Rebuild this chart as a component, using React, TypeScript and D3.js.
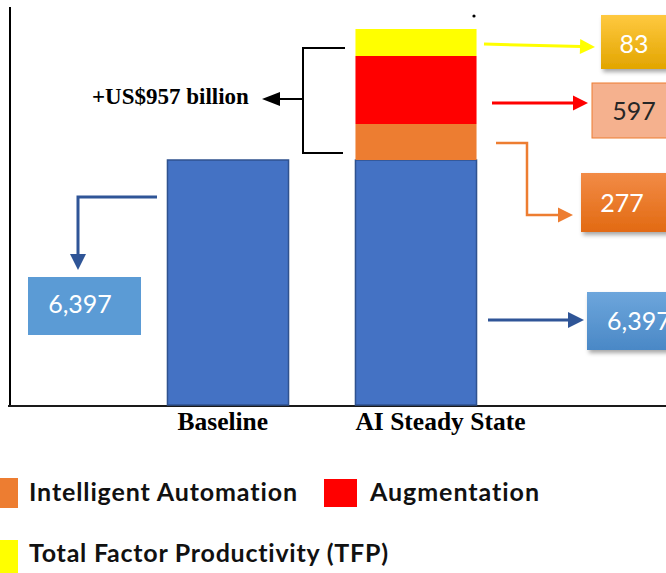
import React from 'react';
import * as d3 from 'd3';

// chart data
const categories = ['Baseline', 'AI Steady State'];
const baselineValue = 6397;
const stackKeys = ['Baseline', 'Intelligent Automation', 'Augmentation', 'Total Factor Productivity (TFP)'];
const stackValues = [6397, 277, 597, 83];
const gainLabel = '+US$957 billion';
const legendItems = ['Intelligent Automation', 'Augmentation', 'Total Factor Productivity (TFP)'];

const W = 666;
const H = 573;
const SERIF = '"Liberation Serif", "Times New Roman", serif';
const SANS = 'Lato, "Open Sans", sans-serif';
const noLig = { fontVariantLigatures: 'none' as const };

const colors: Record<string, string> = {
  Baseline: '#4472C4',
  'Intelligent Automation': '#ED7D31',
  Augmentation: '#FF0000',
  'Total Factor Productivity (TFP)': '#FFFF00',
};

const x = d3.scaleBand<string>().domain(categories).range([134, 510]).paddingInner(0.356).paddingOuter(0.178);

// the source figure is schematic, segments are not drawn to scale -> piecewise scale
const cum = [0, ...Array.from(d3.cumsum(stackValues))];
const y = d3.scaleLinear().domain(cum).range([405, 160, 124, 56, 29]);

const stackRow: Record<string, number> = {};
stackKeys.forEach((k, i) => (stackRow[k] = stackValues[i]));
const series = d3.stack<Record<string, number>>().keys(stackKeys)([stackRow]);

const fmt = d3.format(',');

function Arrow({ pts, color, w = 3, head = 15, hw = 15 }: { pts: number[][]; color: string; w?: number; head?: number; hw?: number }) {
  const [x1, y1] = pts[pts.length - 2];
  const [x2, y2] = pts[pts.length - 1];
  const a = Math.atan2(y2 - y1, x2 - x1);
  const bx = x2 - head * Math.cos(a);
  const by = y2 - head * Math.sin(a);
  const nx = (-Math.sin(a) * hw) / 2;
  const ny = (Math.cos(a) * hw) / 2;
  const line = [...pts.slice(0, -1), [bx + Math.cos(a), by + Math.sin(a)]];
  return (
    <g>
      <polyline points={line.map((p) => p.join(',')).join(' ')} fill="none" stroke={color} strokeWidth={w} strokeLinejoin="miter" />
      <polygon points={`${x2},${y2} ${bx + nx},${by + ny} ${bx - nx},${by - ny}`} fill={color} />
    </g>
  );
}

export default function App() {
  const aiX = x('AI Steady State')!;
  const baseX = x('Baseline')!;
  const bw = x.bandwidth();

  return (
    <svg width={W} height={H} style={{ position: 'absolute', left: 0, top: 0, background: '#fff' }}>
      <defs>
        <filter id="sh" x="-20%" y="-20%" width="150%" height="160%">
          <feDropShadow dx="2" dy="3" stdDeviation="2" floodColor="#000" floodOpacity="0.35" />
        </filter>
        <linearGradient id="gGold" x1="0" y1="0" x2="0" y2="1">
          <stop offset="0" stopColor="#FFC940" />
          <stop offset="1" stopColor="#E2A500" />
        </linearGradient>
        <linearGradient id="gOrange" x1="0" y1="0" x2="0" y2="1">
          <stop offset="0" stopColor="#F28B46" />
          <stop offset="1" stopColor="#E26A12" />
        </linearGradient>
        <linearGradient id="gBlue" x1="0" y1="0" x2="0" y2="1">
          <stop offset="0" stopColor="#6DA6DC" />
          <stop offset="1" stopColor="#4A88C6" />
        </linearGradient>
      </defs>

      {/* axes */}
      <line x1={10} x2={10} y1={7} y2={406} stroke="#000" strokeWidth={2} />
      <line x1={8} x2={W} y1={406} y2={406} stroke="#1a1a1a" strokeWidth={2} />

      {/* baseline bar */}
      <rect x={baseX} y={y(baselineValue)} width={bw} height={y(0) - y(baselineValue)} fill={colors.Baseline} stroke="#2F528F" strokeWidth={1.5} />

      {/* stacked AI bar */}
      {series.map((s) => {
        const d = s[0];
        const isBase = s.key === 'Baseline';
        return (
          <rect
            key={s.key}
            x={aiX}
            y={y(d[1])}
            width={bw}
            height={y(d[0]) - y(d[1])}
            fill={colors[s.key]}
            stroke={isBase ? '#2F528F' : 'none'}
            strokeWidth={isBase ? 1.5 : 0}
          />
        );
      })}

      {/* category labels */}
      {categories.map((c, i) => (
        <text key={c} x={x(c)! + (i === 0 ? 10 : 0)} y={430} fontFamily={SERIF} fontWeight="bold" fontSize={25.5} fill="#000">
          {c}
        </text>
      ))}

      {/* bracket + gain label */}
      <polyline points="345,48 303,48 303,153 343,153" fill="none" stroke="#000" strokeWidth={2} />
      <Arrow pts={[[303, 99], [262, 99]]} color="#000" w={2} head={18} hw={14} />
      <circle cx={474} cy={16} r={1.6} fill="#000" />
      <text x={92} y={104} fontFamily={SERIF} fontWeight="bold" fontSize={23} fill="#000">
        {gainLabel}
      </text>

      {/* arrows to value boxes */}
      <Arrow pts={[[484, 44], [595, 47]]} color="#FFFF00" w={3} />
      <Arrow pts={[[492, 103], [588, 103]]} color="#FF0000" w={3} />
      <Arrow pts={[[496, 143], [527, 143], [527, 215], [573, 215]]} color="#ED7D31" w={2.5} />
      <Arrow pts={[[488, 320], [584, 320]]} color="#2F5597" w={3} head={16} hw={16} />
      <Arrow pts={[[157, 197], [78, 197], [78, 270]]} color="#2F5597" w={3} head={16} hw={16} />

      {/* value boxes */}
      <rect x={601} y={15} width={90} height={54} fill="url(#gGold)" filter="url(#sh)" />
      <text x={634} y={53} textAnchor="middle" fontFamily={SANS} fontSize={25} fill="#fff">
        {fmt(stackValues[3])}
      </text>

      <rect x={592} y={83} width={90} height={55} fill="#F5B18E" stroke="#ED7D31" strokeWidth={1} />
      <text x={634} y={120} textAnchor="middle" fontFamily={SANS} fontSize={25} fill="#262626">
        {fmt(stackValues[2])}
      </text>

      <rect x={581} y={173} width={100} height={59} fill="url(#gOrange)" filter="url(#sh)" />
      <text x={622} y={212} textAnchor="middle" fontFamily={SANS} fontSize={25} fill="#fff">
        {fmt(stackValues[1])}
      </text>

      <rect x={587} y={292} width={100} height={58} fill="url(#gBlue)" filter="url(#sh)" />
      <text x={607} y={330} fontFamily={SANS} fontSize={25} fill="#fff">
        {fmt(stackValues[0])}
      </text>

      <rect x={28} y={277} width={113} height={58} fill="#5B9BD5" />
      <text x={80} y={313} textAnchor="middle" fontFamily={SANS} fontSize={25} fill="#fff">
        {fmt(baselineValue)}
      </text>

      {/* legend */}
      <rect x={-12} y={478} width={30} height={30} fill={colors[legendItems[0]]} />
      <text x={29} y={501} fontFamily={SANS} fontWeight="bold" fontSize={25} fill="#111" textLength={268} lengthAdjust="spacing" style={noLig}>
        {legendItems[0]}
      </text>
      <rect x={324} y={479} width={33} height={28} fill={colors[legendItems[1]]} />
      <text x={370} y={501} fontFamily={SANS} fontWeight="bold" fontSize={25} fill="#111" textLength={169} lengthAdjust="spacing" style={noLig}>
        {legendItems[1]}
      </text>
      <rect x={-12} y={540} width={30} height={40} fill={colors[legendItems[2]]} />
      <text x={29} y={562} fontFamily={SANS} fontWeight="bold" fontSize={25} fill="#111" textLength={359} lengthAdjust="spacing" style={noLig}>
        {legendItems[2]}
      </text>
    </svg>
  );
}
